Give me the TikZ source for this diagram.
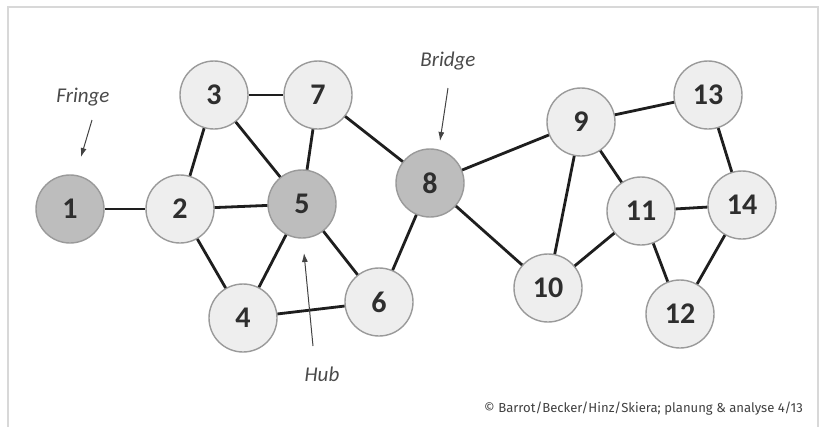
\documentclass[tikz,border=0pt]{standalone}
\usepackage{fontspec}
\setmainfont{Carlito}
\newfontfamily\credfont{Fira Sans}
\usetikzlibrary{arrows.meta}
\definecolor{lightnode}{HTML}{EEEEEE}
\definecolor{darknode}{HTML}{BDBDBD}
\definecolor{nodeborder}{HTML}{9A9A9A}
\definecolor{edgecol}{HTML}{1E1E1E}
\definecolor{labcol}{HTML}{4A4A4A}
\definecolor{framecol}{HTML}{D8D8D8}
\tikzset{
  vert/.style={circle, draw=nodeborder, line width=1.4pt, fill=lightnode,
    minimum size=68pt, inner sep=0pt, font=\fontsize{30}{32}\selectfont\bfseries, text=black!82},
  darkvert/.style={vert, fill=darknode},
  edge/.style={draw=edgecol, line width=2.8pt},
  lab/.style={font=\fontsize{21}{23}\selectfont\itshape, text=labcol},
  pointer/.style={draw=labcol!90!black, line width=1pt, -{Latex[length=9pt,width=6pt]}},
}
\begin{document}
\begin{tikzpicture}[x=1pt,y=-1pt]
\useasboundingbox (0,0) rectangle (822,426);
\fill[white] (0,0) rectangle (822,426);
\draw[framecol, line width=1.2pt] (8,427) -- (8,7) -- (818,7) -- (818,427);
% nodes
\node[darkvert] (n1) at (70,209) {1};
\node[vert] (n2) at (180,209) {2};
\node[vert] (n3) at (214,95) {3};
\node[vert] (n7) at (318,95) {7};
\node[darkvert] (n5) at (302,204) {5};
\node[vert] (n4) at (243,318) {4};
\node[vert] (n6) at (379,302) {6};
\node[darkvert] (n8) at (430,183) {8};
\node[vert] (n9) at (581,122) {9};
\node[vert] (n13) at (708,95) {13};
\node[vert] (n11) at (641,211) {11};
\node[vert] (n14) at (742,205) {14};
\node[vert] (n10) at (548,288) {10};
\node[vert] (n12) at (680,314) {12};
% edges
\foreach \a/\b in {n1/n2,n2/n3,n2/n5,n2/n4,n3/n7,n3/n5,n7/n5,n7/n8,n5/n4,n5/n6,n4/n6,n6/n8,n8/n9,n8/n10,n9/n10,n9/n13,n9/n11,n11/n10,n11/n14,n11/n12,n13/n14,n14/n12}
  \draw[edge] (\a) -- (\b);
% labels
\node[lab] (fringe) at (83,97) {Fringe};
\coordinate (fs) at (92,120);
\coordinate (fe) at (81,157);
\draw[pointer] (fs) -- (fe);
\node[lab] (bridge) at (448,61) {Bridge};
\coordinate (bs) at (448,88);
\coordinate (be) at (440,141);
\draw[pointer] (bs) -- (be);
\node[lab] (hub) at (322,374) {Hub};
\coordinate (hs) at (313,346);
\coordinate (he) at (304,253);
\draw[pointer] (hs) -- (he);
\node[anchor=base east, font=\credfont\fontsize{13.1}{15}\selectfont, text=black!75, inner sep=0pt] (cred) at (803,412) {© Barrot/Becker/Hinz/Skiera; planung \& analyse 4/13};
\end{tikzpicture}
\end{document}
